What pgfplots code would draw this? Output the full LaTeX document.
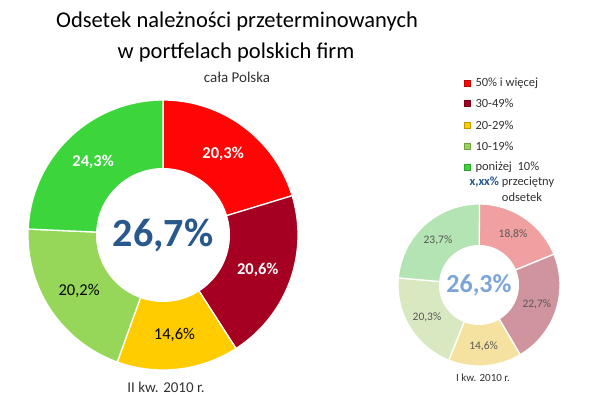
\documentclass[border=0pt]{standalone}
\usepackage{pgfplots}
\pgfplotsset{compat=1.18}
\usepackage{fontspec}
\setmainfont{Carlito}
\definecolor{cA}{RGB}{255,5,5}
\definecolor{cB}{RGB}{165,0,33}
\definecolor{cC}{RGB}{255,204,0}
\definecolor{cD}{RGB}{150,215,90}
\definecolor{cE}{RGB}{60,214,60}
\definecolor{fA}{RGB}{240,160,160}
\definecolor{fB}{RGB}{207,148,158}
\definecolor{fC}{RGB}{246,226,160}
\definecolor{fD}{RGB}{216,232,192}
\definecolor{fE}{RGB}{180,228,180}
\definecolor{dblue}{RGB}{40,88,140}
\definecolor{lblue}{RGB}{125,165,215}
\definecolor{txt}{RGB}{50,50,50}
\tikzset{
  lw/.style={text=white,font=\bfseries\fontsize{16.5}{18}\selectfont},
  lk/.style={text=black,font=\fontsize{16.5}{18}\selectfont},
  ls/.style={text=black!65,font=\fontsize{11.5}{13}\selectfont},
}
% \sector{value in %}{fill colour}{label}{label style}
\newcommand\sector[4]{%
  \pgfmathsetmacro\en{\st-3.6*#1}%
  \pgfmathsetmacro\md{(\st+\en)/2}%
  \pgfmathsetmacro\lx{\cx+\rm*cos(\md)}%
  \pgfmathsetmacro\ly{\cy+\rm*sin(\md)}%
  \edef\cmd{\noexpand\addplot[fill=#2, draw=white, line width=1.3pt, domain=\en:\st, samples=80, variable=\noexpand\t] ({\cx+\R*cos(\noexpand\t)},{\cy+\R*sin(\noexpand\t)}) -- (axis cs:\cx,\cy) -- cycle;}%
  \cmd
  \edef\cmdb{\noexpand\node[#4] at (axis cs:\lx,\ly) {\unexpanded{#3}};}%
  \cmdb
  \xdef\st{\en}%
}
\newcommand\hole{%
  \edef\cmd{\noexpand\addplot[fill=white, draw=none, domain=0:360, samples=120, variable=\noexpand\t] ({\cx+\r*cos(\noexpand\t)},{\cy+\r*sin(\noexpand\t)}) -- cycle;}%
  \cmd
}
\begin{document}
\begin{tikzpicture}
\path[use as bounding box] (0,0) rectangle (600pt,399pt);
\begin{axis}[hide axis, scale only axis, width=600pt, height=399pt,
  xmin=0, xmax=600, ymin=0, ymax=399, clip=false, at={(0,0)}, anchor=south west]
% big donut: II kw. 2010
\def\cx{163}\def\cy{164}\def\R{135}\def\r{67}\def\rm{101}
\xdef\st{90}
\sector{20.3}{cA}{20,3\%}{lw}
\sector{20.6}{cB}{20,6\%}{lw}
\sector{14.6}{cC}{14,6\%}{lk}
\sector{20.2}{cD}{20,2\%}{lk}
\sector{24.3}{cE}{24,3\%}{lw}
\hole
\node[text=dblue, font=\bfseries\fontsize{40}{44}\selectfont] at (axis cs:163,164) {26,7\%};
\node[text=txt, font=\fontsize{15}{17}\selectfont] at (axis cs:166,12) {II kw. 2010 r.};
% small donut: I kw. 2010
\def\cx{479}\def\cy{114}\def\R{81}\def\r{40}\def\rm{61}
\xdef\st{90}
\sector{18.8}{fA}{18,8\%}{ls}
\sector{22.7}{fB}{22,7\%}{ls}
\sector{14.6}{fC}{14,6\%}{ls}
\sector{20.3}{fD}{20,3\%}{ls}
\sector{23.7}{fE}{23,7\%}{ls}
\hole
\node[text=lblue, font=\bfseries\fontsize{26}{30}\selectfont] at (axis cs:479,114) {26,3\%};
\node[text=txt, font=\fontsize{11}{13}\selectfont] at (axis cs:483,21) {I kw. 2010 r.};
% titles
\node[text=black, font=\fontsize{22.5}{26}\selectfont] at (axis cs:237,377) {Odsetek należności przeterminowanych};
\node[text=black, font=\fontsize{22.5}{26}\selectfont] at (axis cs:236,346) {w portfelach polskich firm};
\node[text=txt, font=\fontsize{15}{17}\selectfont] at (axis cs:237,322) {cała Polska};
% legend
\addplot[only marks, mark=square*, mark size=3pt, mark options={fill=cA, draw=cA!75!black}] coordinates {(467,316)};
\addplot[only marks, mark=square*, mark size=3pt, mark options={fill=cB, draw=cB!75!black}] coordinates {(467,296)};
\addplot[only marks, mark=square*, mark size=3pt, mark options={fill=cC, draw=cC!75!black}] coordinates {(467,274)};
\addplot[only marks, mark=square*, mark size=3pt, mark options={fill=cD, draw=cD!75!black}] coordinates {(467,253)};
\addplot[only marks, mark=square*, mark size=3pt, mark options={fill=cE, draw=cE!75!black}] coordinates {(467,232)};
\begin{scope}[every node/.style={anchor=west, text=txt, font=\fontsize{12.5}{14}\selectfont}]
\node at (axis cs:472,316) {50\% i więcej};
\node at (axis cs:472,296) {30-49\%};
\node at (axis cs:472,274) {20-29\%};
\node at (axis cs:472,253) {10-19\%};
\node at (axis cs:472,232) {poniżej\ \ 10\%};
\node at (axis cs:466,217) {\textcolor{dblue}{\bfseries x,xx\%} przeciętny};
\end{scope}
\node[text=txt, font=\fontsize{12.5}{14}\selectfont] at (axis cs:522,202) {odsetek};
\end{axis}
\end{tikzpicture}
\end{document}
